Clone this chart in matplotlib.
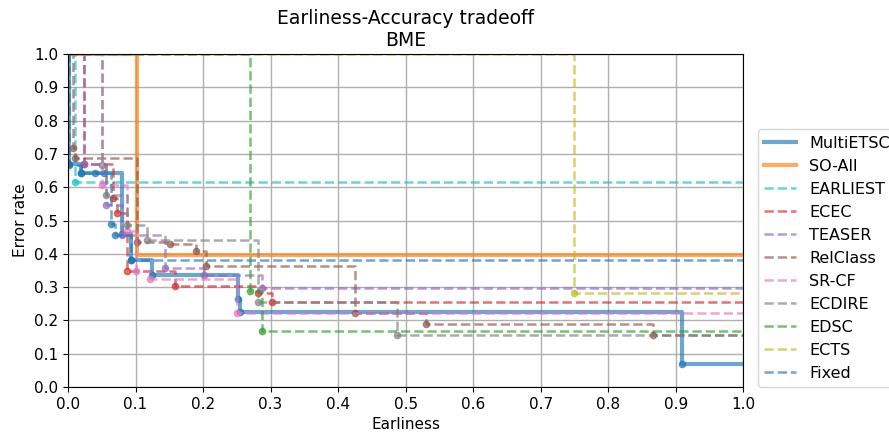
import matplotlib
matplotlib.use("Agg")
import matplotlib.pyplot as plt

methods = ["MultiETSC", "SO-All", "EARLIEST", "ECEC", "TEASER", "RelClass",
           "SR-CF", "ECDIRE", "EDSC", "ECTS", "Fixed"]

multietsc_x = [0.002, 0.019, 0.040, 0.054, 0.080, 0.094, 0.125, 0.252, 0.254, 0.910]
multietsc_y = [0.670, 0.642, 0.642, 0.642, 0.459, 0.381, 0.335, 0.263, 0.226, 0.068]

soall_x = [0.102]
soall_y = [0.395]

earliest_x = [0.0104]
earliest_y = [0.615]

ecec_x = [0.024, 0.066, 0.072, 0.087, 0.158, 0.282, 0.302]
ecec_y = [0.670, 0.567, 0.523, 0.349, 0.303, 0.281, 0.256]

teaser_x = [0.024, 0.057, 0.080, 0.144, 0.201, 0.287]
teaser_y = [0.670, 0.547, 0.458, 0.356, 0.336, 0.296]

relclass_x = [0.008, 0.011, 0.102, 0.151, 0.190, 0.205, 0.425, 0.530, 0.867]
relclass_y = [0.717, 0.688, 0.436, 0.428, 0.409, 0.363, 0.221, 0.189, 0.156]

srcf_x = [0.051, 0.087, 0.101, 0.121, 0.250]
srcf_y = [0.607, 0.470, 0.349, 0.324, 0.221]

ecdire_x = [0.051, 0.057, 0.087, 0.117, 0.282, 0.487]
ecdire_y = [0.667, 0.577, 0.486, 0.441, 0.256, 0.156]

edsc_x = [0.270, 0.287]
edsc_y = [0.289, 0.168]

ects_x = [0.750]
ects_y = [0.283]

fixed_x = [0.002, 0.019, 0.064, 0.070, 0.094]
fixed_y = [0.667, 0.642, 0.489, 0.456, 0.381]

series = [
    ("MultiETSC", multietsc_x, multietsc_y, "C0", "-", True),
    ("SO-All", soall_x, soall_y, "C1", "-", False),
    ("EARLIEST", earliest_x, earliest_y, "C9", "--", True),
    ("ECEC", ecec_x, ecec_y, "C3", "--", True),
    ("TEASER", teaser_x, teaser_y, "C4", "--", True),
    ("RelClass", relclass_x, relclass_y, "C5", "--", True),
    ("SR-CF", srcf_x, srcf_y, "C6", "--", True),
    ("ECDIRE", ecdire_x, ecdire_y, "C7", "--", True),
    ("EDSC", edsc_x, edsc_y, "C2", "--", True),
    ("ECTS", ects_x, ects_y, "C8", "--", True),
    ("Fixed", fixed_x, fixed_y, "C0", "--", True),
]

plt.rcParams["font.size"] = 11

fig = plt.figure(figsize=(8.89, 4.36), dpi=100)
ax = fig.add_axes([0.0765, 0.1124, 0.7595, 0.7636])

for name, xs, ys, color, ls, mark in series:
    sx = [0.0] + list(xs) + [1.0]
    sy = [1.0] + list(ys) + [ys[-1]]
    lw = 3.0 if ls == "-" else 1.8
    ax.step(sx, sy, where="post", color=color, linestyle=ls, linewidth=lw,
            alpha=0.65, label=name)
    if mark:
        ax.plot(xs, ys, "o", color=color, markersize=4.5, alpha=0.65)

ax.set_xlim(0, 1)
ax.set_ylim(0, 1)
ax.set_xticks([i / 10 for i in range(11)])
ax.set_yticks([i / 10 for i in range(11)])
ax.grid(True, color="#b0b0b0", linewidth=1.0)
ax.set_axisbelow(True)
ax.set_xlabel("Earliness", fontsize=11)
ax.set_ylabel("Error rate", fontsize=11)
ax.set_title("Earliness-Accuracy tradeoff\nBME", fontsize=13.5)
ax.legend(loc="lower left", bbox_to_anchor=(1.022, 0.0), borderaxespad=0,
          fontsize=11.5)

fig.savefig("out.png", dpi=100)
